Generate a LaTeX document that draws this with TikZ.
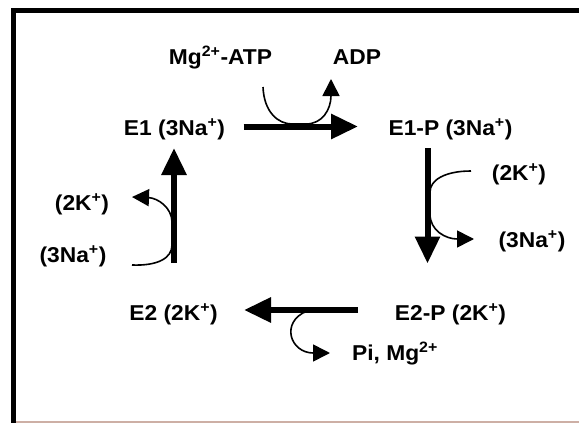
\documentclass[tikz,border=0pt]{standalone}
\usepackage{fontspec}
\setmainfont{Liberation Sans}[FakeStretch=1.06]
\usetikzlibrary{arrows.meta}
\definecolor{rimline}{RGB}{205,175,165}
\begin{document}
\begin{tikzpicture}[x=1pt,y=-1pt,
  lbl/.style={font=\fontsize{21.5}{26}\selectfont\bfseries, inner sep=0pt, anchor=base},
  shaft/.style={line width=6pt, -{Triangle[length=27pt,width=24pt]}},
  side/.style={line width=1.6pt, -{Triangle[length=17pt,width=17pt]}}]
\useasboundingbox (0,0) rectangle (579,423);
\fill[white] (0,0) rectangle (579,423);
% frame
\draw[line width=4.5pt, line join=miter] (13.5,423) -- (13.5,10.7) -- (579,10.7);
\draw[line width=1.5pt, rimline] (16,422) -- (579,422);

% states of the cycle
\node[lbl] (e1)  at (174.5,135) {E1 (3Na\textsuperscript{+})};
\node[lbl] (e1p) at (450.5,135) {E1-P (3Na\textsuperscript{+})};
\node[lbl] (e2)  at (173.6,320) {E2 (2K\textsuperscript{+})};
\node[lbl] (e2p) at (450.5,320) {E2-P (2K\textsuperscript{+})};

% ligands
\node[lbl] (mg)  at (220.5,64) {Mg\textsuperscript{2+}-ATP};
\node[lbl] (adp) at (357,64) {ADP};
\node[lbl] (kl)  at (82,210) {(2K\textsuperscript{+})};
\node[lbl] (nal) at (73,262) {(3Na\textsuperscript{+})};
\node[lbl] (kr)  at (519,180) {(2K\textsuperscript{+})};
\node[lbl] (nar) at (532,247) {(3Na\textsuperscript{+})};
\node[lbl] (pi)  at (395,360) {Pi, Mg\textsuperscript{2+}};

% ends of the reaction arrows
\coordinate (topS) at (243.7,126.5);
\coordinate (topE) at (358,126.5);
\coordinate (rgtS) at (427.5,148);
\coordinate (rgtE) at (427.5,263.5);
\coordinate (botS) at (358,310);
\coordinate (botE) at (244,310);
\coordinate (lftS) at (174,263);
\coordinate (lftE) at (174,148);

\draw[shaft] (topS) -- (topE);
\draw[shaft] (rgtS) -- (rgtE);
\draw[shaft] (botS) -- (botE);
\draw[shaft] (lftS) -- (lftE);

% ends of the binding / release curves
\coordinate (mgIn)  at (263,87);
\coordinate (adpOut) at (331,79);
\coordinate (kIn)   at (471,171);
\coordinate (naOut) at (474,239);
\coordinate (piFrom) at (307,311);
\coordinate (piOut) at (330,353);
\coordinate (naIn)  at (132,265);
\coordinate (kOut)  at (132,197);

\draw[side] (mgIn) .. controls (264,112) and (278,124) .. (292,124) -- (306,124)
  .. controls (322,124) and (331,110) .. (adpOut);
\draw[side] (kIn) .. controls (445,171) and (430,180) .. (430,192) -- (430,214)
  .. controls (430,230) and (445,239) .. (naOut);
\draw[side] (piFrom) .. controls (280,322) and (290,353) .. (piOut);
\draw[side] (naIn) .. controls (158,266) and (172,258) .. (172,245) -- (172,222)
  .. controls (172,208) and (158,198) .. (kOut);
\end{tikzpicture}
\end{document}
